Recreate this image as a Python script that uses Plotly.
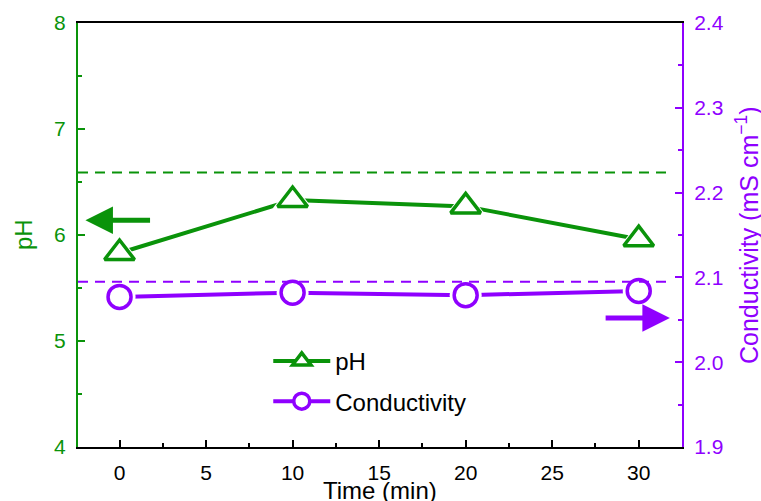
import plotly.graph_objects as go

# Measured series
time_min = [0, 10, 20, 30]
ph_values = [5.83, 6.33, 6.27, 5.96]
conductivity_values = [2.077, 2.082, 2.079, 2.084]

# Reference levels (dashed lines)
ph_reference = 6.59
conductivity_reference = 2.095

GREEN = "#0A930A"
PURPLE = "#8F00FF"
FONT = "Arial, Liberation Sans, sans-serif"

fig = go.Figure()

def add_series(x, y, color, symbol, size, name, axis):
    # line + marker (legend entry)
    fig.add_trace(go.Scatter(
        x=x, y=y, yaxis=axis, name=name, mode="lines+markers",
        line=dict(color=color, width=4),
        marker=dict(symbol=symbol, size=size, color="white",
                    line=dict(color=color, width=3.5)),
        legendgroup=name, showlegend=True,
    ))
    # white halo to open a gap between the line and the marker
    fig.add_trace(go.Scatter(
        x=x, y=y, yaxis=axis, mode="markers", hoverinfo="skip",
        marker=dict(symbol=symbol, size=size + 9, color="white",
                    line=dict(width=0)),
        legendgroup=name, showlegend=False,
    ))
    # open markers on top
    fig.add_trace(go.Scatter(
        x=x, y=y, yaxis=axis, mode="markers", name=name,
        marker=dict(symbol=symbol, size=size, color="white",
                    line=dict(color=color, width=3.5)),
        legendgroup=name, showlegend=False,
    ))

add_series(time_min, ph_values, GREEN, "triangle-up", 26, "pH", "y")
add_series(time_min, conductivity_values, PURPLE, "circle", 23, "Conductivity", "y2")

# dashed reference levels across the plot
fig.add_shape(type="line", xref="x domain", yref="y", x0=0, x1=0.985,
              y0=ph_reference, y1=ph_reference,
              line=dict(color=GREEN, width=2, dash="10px,7px"))
fig.add_shape(type="line", xref="x domain", yref="y2", x0=0, x1=0.985,
              y0=conductivity_reference, y1=conductivity_reference,
              line=dict(color=PURPLE, width=2, dash="10px,7px"))

# arrows pointing to the matching axis
fig.add_annotation(x=-1.97, y=6.14, ax=1.85, ay=6.14, xref="x", yref="y",
                   axref="x", ayref="y", text="", showarrow=True,
                   arrowhead=2, arrowsize=1.1, arrowwidth=5, arrowcolor=GREEN)
fig.add_annotation(x=31.8, y=2.052, ax=28.0, ay=2.052, xref="x", yref="y2",
                   axref="x", ayref="y2", text="", showarrow=True,
                   arrowhead=2, arrowsize=1.1, arrowwidth=5, arrowcolor=PURPLE)

# axis titles
fig.add_annotation(x=0, y=0.5, xref="paper", yref="paper", xshift=-55,
                   text="pH", textangle=-90, showarrow=False,
                   font=dict(size=24, color=GREEN, family=FONT),
                   xanchor="center", yanchor="middle")
fig.add_annotation(x=1, y=0.5, xref="paper", yref="paper", xshift=65,
                   text="Conductivity (mS cm<sup>\u22121</sup>)", textangle=-90,
                   showarrow=False, font=dict(size=25, color=PURPLE, family=FONT),
                   xanchor="center", yanchor="middle")
fig.add_annotation(x=0.5, y=0, xref="paper", yref="paper", yshift=-43,
                   text="Time (min)", showarrow=False,
                   font=dict(size=24, color="black", family=FONT),
                   xanchor="center", yanchor="middle")

fig.update_layout(
    width=761, height=501,
    margin=dict(l=78, r=79, t=23, b=54),
    plot_bgcolor="white", paper_bgcolor="white",
    font=dict(family=FONT, size=21, color="black"),
    showlegend=True,
    legend=dict(x=0.315, y=0.255, xanchor="left", yanchor="top",
                bgcolor="rgba(0,0,0,0)", font=dict(size=24, color="black"),
                traceorder="grouped", tracegroupgap=6, itemwidth=57),
    xaxis=dict(range=[-2.4, 32.5], tick0=0, dtick=5, ticks="inside",
               ticklen=7, tickwidth=2, tickcolor="black",
               showline=True, linecolor="black", linewidth=2, mirror=True,
               showgrid=False, zeroline=False, ticklabelstandoff=6,
               tickfont=dict(size=21, color="black"),
               minor=dict(dtick=2.5, ticks="inside", ticklen=4, tickwidth=2,
                          tickcolor="black")),
    yaxis=dict(range=[4, 8], tick0=4, dtick=1, ticks="inside",
               ticklen=7, tickwidth=2, tickcolor=GREEN,
               showline=True, linecolor=GREEN, linewidth=2,
               showgrid=False, zeroline=False, ticklabelstandoff=6,
               tickfont=dict(size=21, color=GREEN),
               minor=dict(dtick=0.5, ticks="inside", ticklen=4, tickwidth=2,
                          tickcolor=GREEN)),
    yaxis2=dict(range=[1.9, 2.4], tick0=1.9, dtick=0.1, tickformat=".1f",
                overlaying="y", side="right", ticks="inside",
                ticklen=7, tickwidth=2, tickcolor=PURPLE,
                showline=True, linecolor=PURPLE, linewidth=2,
                showgrid=False, zeroline=False, ticklabelstandoff=6,
                tickfont=dict(size=21, color=PURPLE),
                minor=dict(dtick=0.05, ticks="inside", ticklen=4, tickwidth=2,
                           tickcolor=PURPLE)),
)

fig.write_html("out.html")
